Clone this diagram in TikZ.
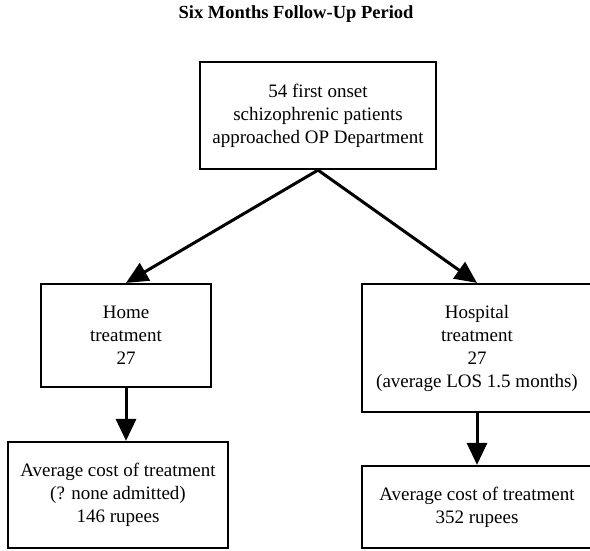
\documentclass[tikz,border=0pt]{standalone}
\usepackage{fontspec}
\setmainfont{Liberation Serif}
\usetikzlibrary{arrows.meta}
\begin{document}
\begin{tikzpicture}[x=1pt,y=-1pt,
  box/.style={draw=black,line width=2.2pt,align=center,inner sep=0pt,
    font=\fontsize{19}{23}\selectfont},
  flow/.style={line width=3pt,-{Triangle[length=22pt,width=20pt]}},
  heading/.style={font=\fontsize{18.5}{22}\selectfont\bfseries}]
\useasboundingbox[fill=white] (0,0) rectangle (590,550);

\node[heading] (title) at (296,14) {Six Months Follow-Up Period};

\node[box,minimum width=236pt,minimum height=107pt] (onset) at (318,115.5)
  {54 first onset\\schizophrenic patients\\approached OP Department};

\node[box,minimum width=170pt,minimum height=103pt] (home) at (126,335.5)
  {Home\\treatment\\27};

\node[box,minimum width=230pt,minimum height=128pt] (hosp) at (477,348)
  {Hospital\\treatment\\27\\(average LOS 1.5 months)};

\node[box,minimum width=220pt,minimum height=106pt] (homecost) at (118,495)
  {Average cost of treatment\\(? none admitted)\\146 rupees};

\node[box,minimum width=230pt,minimum height=82pt] (hospcost) at (477,507)
  {Average cost of treatment\\352 rupees};

\draw[flow] (onset.south) -- (home.north);
\draw[flow] (onset.south) -- (hosp.north);
\draw[flow] (home.south) -- (home.south |- homecost.north);
\draw[flow] (hosp.south) -- (hospcost.north);
\end{tikzpicture}
\end{document}
